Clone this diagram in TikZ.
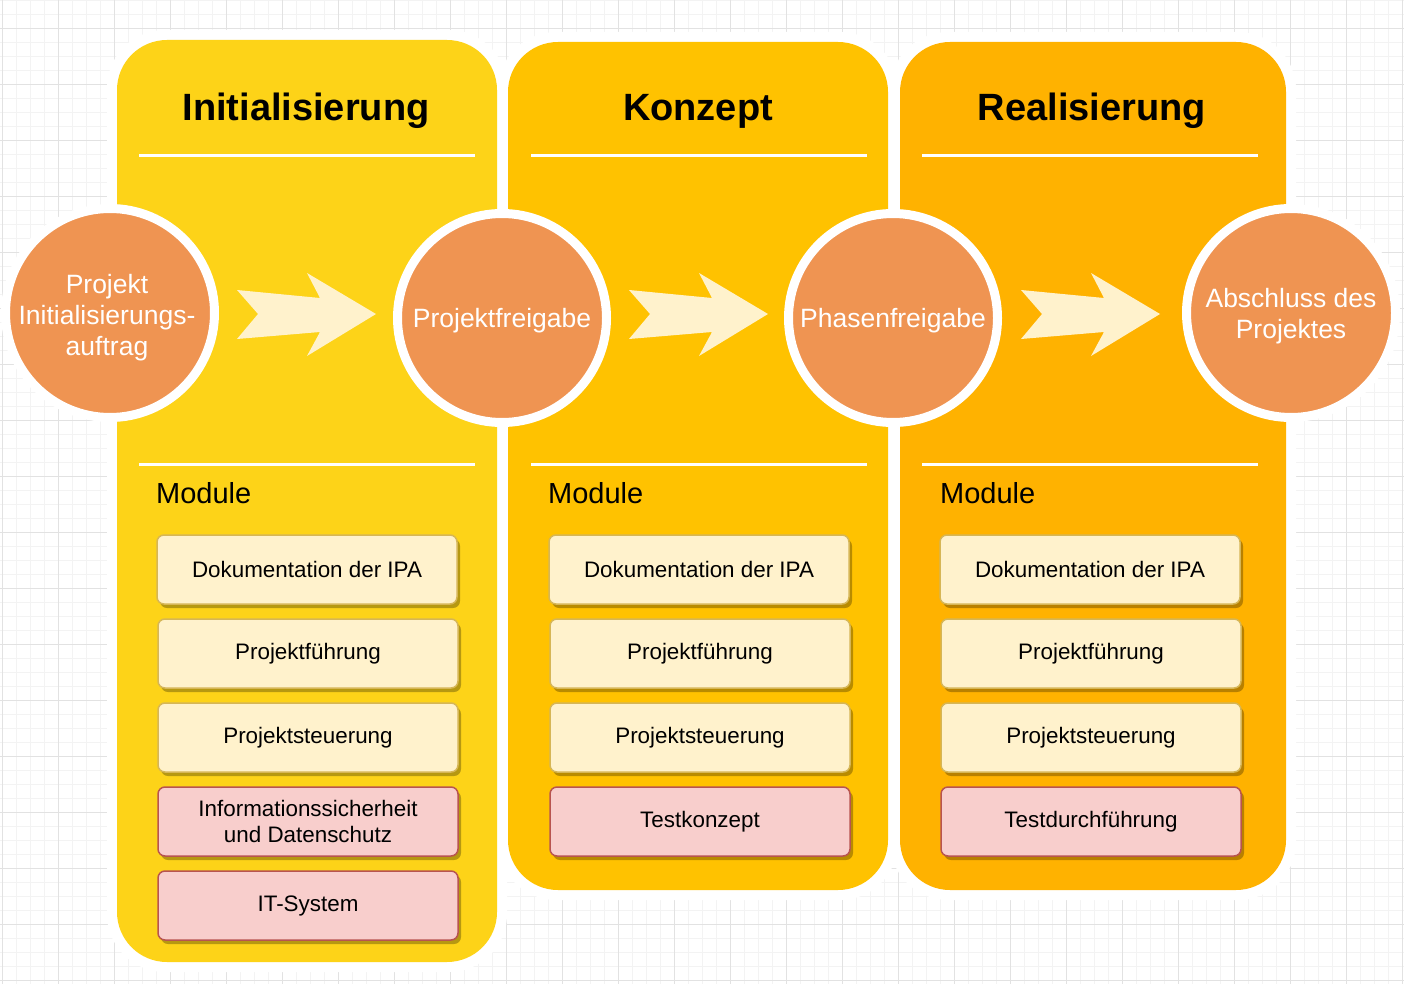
\documentclass[tikz,border=0pt]{standalone}
\usepackage{fontspec}
\setmainfont{Liberation Sans}
\usetikzlibrary{shadows,calc}
\definecolor{panelA}{HTML}{FDD318}
\definecolor{panelB}{HTML}{FFC200}
\definecolor{panelC}{HTML}{FFB200}
\definecolor{phaseorange}{HTML}{EF9452}
\definecolor{cream}{HTML}{FFF2CC}
\definecolor{creamline}{HTML}{D6B656}
\definecolor{pinkfill}{HTML}{F8CECC}
\definecolor{pinkline}{HTML}{B85450}
\definecolor{gridminor}{HTML}{F3F3F3}
\definecolor{gridmajor}{HTML}{E2E2E2}
\tikzset{
  halo/.style={fill=white, rounded corners=58pt},
  panelbox/.style={rounded corners=50pt},
  sepline/.style={draw=white, line width=3pt},
  phasetitle/.style={anchor=base, font=\fontsize{38}{45}\selectfont\bfseries, text=black, inner sep=0pt},
  modlabel/.style={anchor=base west, font=\fontsize{29}{34}\selectfont, text=black, inner sep=0pt},
  milestone/.style={circle, fill=phaseorange, draw=white, line width=9pt, minimum size=209pt, inner sep=0pt},
  mstext/.style={text=white, align=center, font=\fontsize{26.5}{31}\selectfont, inner sep=0pt},
  modbox/.style={rectangle, rounded corners=7pt, minimum width=300pt, minimum height=69pt, line width=1.5pt,
    align=center, font=\fontsize{22.4}{26}\selectfont, text=black, inner sep=0pt,
    drop shadow={shadow xshift=3pt, shadow yshift=-4pt, opacity=0.28, fill=black}},
  modyellow/.style={modbox, fill=cream, draw=creamline},
  modpink/.style={modbox, fill=pinkfill, draw=pinkline},
  blockarrow/.pic={
    \fill[cream] (-69.5,-24) -- (13.5,-16) -- (0.5,-41) -- (69.5,0) -- (0.5,42) -- (13.5,18) -- (-69.5,25) -- (-48.5,0) -- cycle;
  }
}
\begin{document}
\begin{tikzpicture}[x=1pt, y=-1pt]
\useasboundingbox (0,0) rectangle (1404,984);
\fill[white] (0,0) rectangle (1404,984);
% grid
\foreach \gx in {0,...,100} {\draw[gridminor, line width=0.8pt] ({2.7+14*\gx},0) -- ({2.7+14*\gx},984);}
\foreach \gy in {0,...,70} {\draw[gridminor, line width=0.8pt] (0,{0+14*\gy}) -- (1404,{0+14*\gy});}
\foreach \gx in {0,...,25} {\draw[gridmajor, line width=0.9pt] ({2.7+56*\gx},0) -- ({2.7+56*\gx},984);}
\foreach \gy in {0,...,17} {\draw[gridmajor, line width=0.9pt] (0,{28+56*\gy}) -- (1404,{28+56*\gy});}
% panels
\fill[halo] (107,30) rectangle (507,972);
\fill[panelbox, panelA] (117,40) rectangle (497,962);
\fill[halo] (498,32) rectangle (898,900);
\fill[panelbox, panelB] (508,42) rectangle (888,890);
\fill[halo] (890,32) rectangle (1296,900);
\fill[panelbox, panelC] (900,42) rectangle (1286,890);
% titles
\node[phasetitle] (t1) at (306,121) {Initialisierung};
\node[phasetitle] (t2) at (698,121) {Konzept};
\node[phasetitle] (t3) at (1092,121) {Realisierung};
% separator lines
\draw[sepline] (139,156) -- (475,156);
\draw[sepline] (531,156) -- (867,156);
\draw[sepline] (922,156) -- (1258,156);
\draw[sepline] (139,464) -- (475,464);
\draw[sepline] (531,464) -- (867,464);
\draw[sepline] (922,464) -- (1258,464);
% milestones
\node[milestone, label={[mstext, xshift=-3pt, yshift=-5pt]center:Projekt\\Initialisierungs-\\auftrag}] (c1) at (110,313) {};
\node[milestone, label={[mstext, yshift=-3pt]center:Projektfreigabe}] (c2) at (502,318) {};
\node[milestone, label={[mstext, yshift=-3pt]center:Phasenfreigabe}] (c3) at (893,318) {};
\node[milestone, label={[mstext, yshift=-3pt]center:Abschluss des\\Projektes}] (c4) at (1291,313) {};
% block arrows between milestones
\coordinate (a1) at (306.5,314);
\coordinate (a2) at (698.5,314);
\coordinate (a3) at (1090.5,314);
\pic at (a1) {blockarrow};
\pic at (a2) {blockarrow};
\pic at (a3) {blockarrow};
% Module labels
\node[modlabel] (m1) at (156,503) {Module};
\node[modlabel] (m2) at (548,503) {Module};
\node[modlabel] (m3) at (940,503) {Module};
% module boxes column 1
\node[modyellow] (b11) at (307,569.5) {Dokumentation der IPA};
\node[modyellow] (b12) at (308,653.5) {Projektführung};
\node[modyellow] (b13) at (308,737.5) {Projektsteuerung};
\node[modpink] (b14) at (308,821.5) {Informationssicherheit\\und Datenschutz};
\node[modpink] (b15) at (308,905.5) {IT-System};
% column 2
\node[modyellow] (b21) at (699,569.5) {Dokumentation der IPA};
\node[modyellow] (b22) at (700,653.5) {Projektführung};
\node[modyellow] (b23) at (700,737.5) {Projektsteuerung};
\node[modpink] (b24) at (700,821.5) {Testkonzept};
% column 3
\node[modyellow] (b31) at (1090,569.5) {Dokumentation der IPA};
\node[modyellow] (b32) at (1091,653.5) {Projektführung};
\node[modyellow] (b33) at (1091,737.5) {Projektsteuerung};
\node[modpink] (b34) at (1091,821.5) {Testdurchführung};
\end{tikzpicture}
\end{document}
